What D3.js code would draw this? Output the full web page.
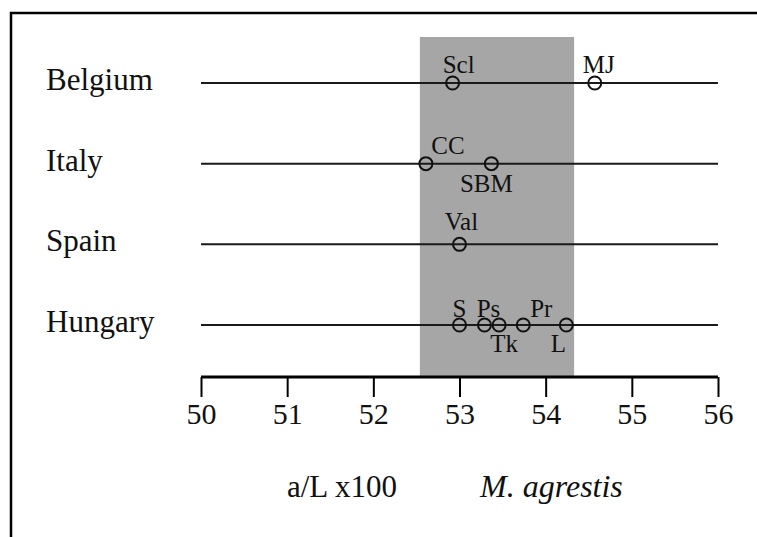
<!DOCTYPE html>
<html>
<head>
<meta charset="utf-8">
<script src="https://cdn.jsdelivr.net/npm/d3@7"></script>
<style>
  html, body { margin: 0; padding: 0; background: #fff; }
  svg { display: block; }
  text { font-family: "Liberation Serif", Tinos, "Times New Roman", Times, "DejaVu Serif", serif; fill: #111; }
</style>
</head>
<body>
<div id="chart"></div>
<script>
// ---- data ----
const countries = ["Belgium", "Italy", "Spain", "Hungary"];
const siteNames    = ["Scl", "MJ", "CC", "SBM", "Val", "S", "Ps", "Tk", "Pr", "L"];
const siteCountry  = ["Belgium", "Belgium", "Italy", "Italy", "Spain", "Hungary", "Hungary", "Hungary", "Hungary", "Hungary"];
const siteValues   = [52.92, 54.57, 52.61, 53.37, 53.0, 53.0, 53.29, 53.46, 53.74, 54.24];
const rangeBand    = [52.54, 54.33];
const xTicks       = [50, 51, 52, 53, 54, 55, 56];
const xDomain      = [50, 56];
const axisLabel    = "a/L x100";
const speciesLabel = "M. agrestis";

// ---- layout (label placement relative to each point) ----
const labelOffset = {
  "Scl": [6, -10], "MJ": [4, -10], "CC": [22, -10], "SBM": [-5, 28],
  "Val": [2, -14], "S": [0, -8], "Ps": [4, -8], "Tk": [5, 27],
  "Pr": [18, -8], "L": [-8, 27]
};

const FONT = '"Liberation Serif", Tinos, "Times New Roman", Times, "DejaVu Serif", serif';
const W = 757, H = 537;
const svg = d3.select("#chart").append("svg").attr("width", W).attr("height", H)
  .style("font-family", FONT);

// frame (top + left)
svg.append("path")
  .attr("d", `M${W},13 H11 V${H}`)
  .attr("fill", "none").attr("stroke", "#000").attr("stroke-width", 2.5);

const x = d3.scaleLinear().domain(xDomain).range([201, 718]);
const y = d3.scalePoint().domain(countries).range([83, 325]);
const axisY = 377;

// shaded band
svg.append("rect")
  .attr("x", x(rangeBand[0])).attr("y", 37)
  .attr("width", x(rangeBand[1]) - x(rangeBand[0]))
  .attr("height", axisY - 37)
  .attr("fill", "#a6a6a6");

// country lines
svg.selectAll(".row").data(countries).enter().append("line")
  .attr("x1", x(xDomain[0])).attr("x2", x(xDomain[1]))
  .attr("y1", d => y(d)).attr("y2", d => y(d))
  .attr("stroke", "#1a1a1a").attr("stroke-width", 2);

// country labels
svg.selectAll(".clab").data(countries).enter().append("text")
  .attr("x", 46).attr("y", d => y(d) + 7)
  .style("font-family", FONT)
  .attr("font-size", 31)
  .text(d => d);

// axis
const axis = d3.axisBottom(x).tickValues(xTicks).tickSize(20).tickPadding(6).tickFormat(d3.format("d"));
const gAxis = svg.append("g").attr("transform", `translate(0,${axisY})`).call(axis);
gAxis.attr("font-family", null);
gAxis.select(".domain").attr("stroke", "#000").attr("stroke-width", 3)
  .attr("d", `M${x(xDomain[0])},0H${x(xDomain[1])}`);
gAxis.selectAll(".tick line").attr("stroke", "#000").attr("stroke-width", 2);
gAxis.selectAll(".tick text")
  .style("font-family", FONT)
  .attr("font-size", 30).attr("fill", "#111");

// points
const sites = siteNames.map((n, i) => ({ name: n, country: siteCountry[i], value: siteValues[i] }));
svg.selectAll(".pt").data(sites).enter().append("circle")
  .attr("cx", d => x(d.value)).attr("cy", d => y(d.country))
  .attr("r", 6.5).attr("fill", "none")
  .attr("stroke", "#111").attr("stroke-width", 2);

svg.selectAll(".plab").data(sites).enter().append("text")
  .attr("x", d => x(d.value) + labelOffset[d.name][0])
  .attr("y", d => y(d.country) + labelOffset[d.name][1])
  .attr("text-anchor", "middle")
  .style("font-family", FONT)
  .attr("font-size", 25)
  .text(d => d.name);

// bottom labels
svg.append("text").attr("x", 287).attr("y", 497).attr("font-size", 31)
  .style("font-family", FONT).text(axisLabel);
svg.append("text").attr("x", 480).attr("y", 497).attr("font-size", 32)
  .style("font-family", FONT)
  .attr("font-style", "italic").text(speciesLabel);
</script>
</body>
</html>
